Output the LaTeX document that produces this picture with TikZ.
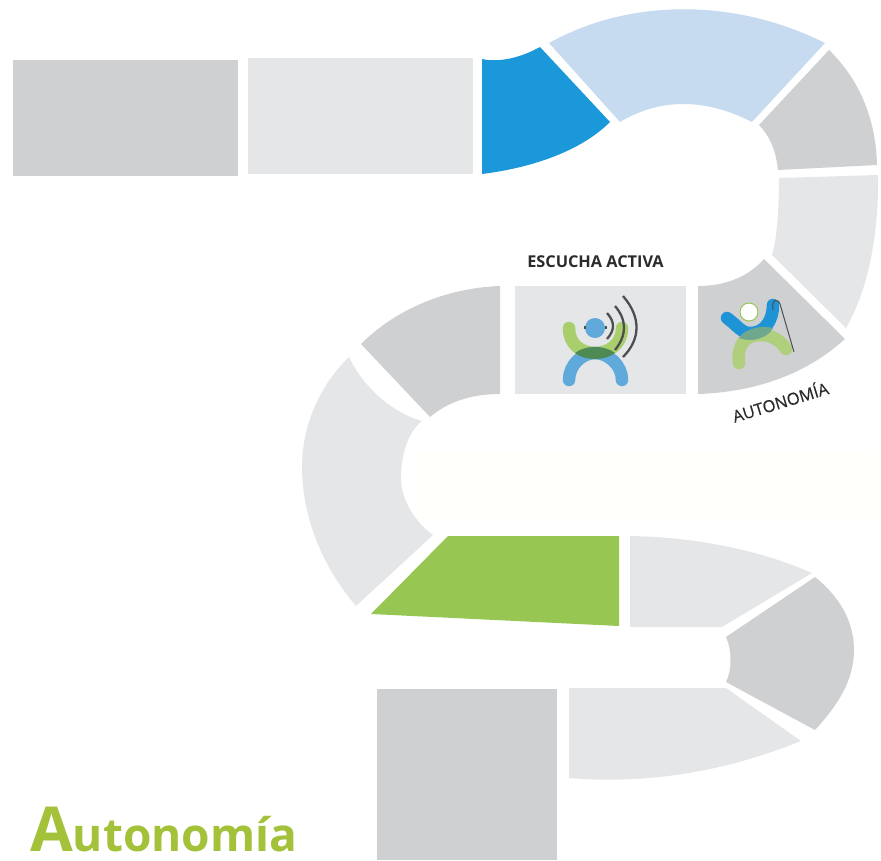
\documentclass[tikz,border=0pt]{standalone}
\usepackage{fontspec}
\setmainfont{Open Sans}
\newfontfamily\autofont[FakeBold=0.5]{Open Sans}
\definecolor{tgray}{HTML}{CFD0D2}
\definecolor{tlight}{HTML}{E5E6E8}
\definecolor{tblue}{HTML}{1B98D9}
\definecolor{tpale}{HTML}{C6DBF0}
\definecolor{tgreen}{HTML}{98C652}
\definecolor{tcream}{HTML}{FFFFFC}
\definecolor{ibluea}{HTML}{5FA9DB}
\definecolor{igreena}{HTML}{A9CE6C}
\definecolor{idark}{HTML}{4F8A55}
\definecolor{ibluec}{HTML}{1E93D6}
\definecolor{igreenc}{HTML}{AFCF7C}
\definecolor{idarkc}{HTML}{6FA88E}
\definecolor{tline}{HTML}{4D4E50}
\definecolor{ttitle}{HTML}{A3C23A}
\definecolor{ttext}{HTML}{2B2B2D}
\tikzset{
 tile/.style={fill=#1,draw=none},
 limb/.style={line width=#1,line cap=round},
 wave/.style={draw=tline,line width=2.3pt,line cap=butt}
}
\begin{document}
\begin{tikzpicture}[x=1pt,y=-1pt]
\useasboundingbox (0,0) rectangle (881,860);
\fill[tile=tcream] (415,450) rectangle (879,520);
% tiles
\fill[tile=tgray] (13,60) rectangle (238,176);
\fill[tile=tlight] (248,58) rectangle (473,174);
\fill[tile=tblue] (482,59) .. controls (500,63) and (522,57) .. (540,47) -- (610,122) .. controls (580,152) and (530,168) .. (482,174) -- cycle;
\fill[tile=tpale] (549,43) .. controls (630,-2) and (735,-2) .. (825,43) -- (752,122) .. controls (705,98) and (660,98) .. (620,122) -- cycle;
\fill[tile=tgray] (829,50) .. controls (860,80) and (876,120) .. (877,165) -- (778,170) .. controls (776,150) and (769,135) .. (759,125) -- cycle;
\fill[tile=tlight] (779,178) -- (878,175) .. controls (879,235) and (868,290) .. (846,328) -- (772,255) .. controls (778,235) and (779,200) .. (779,178) -- cycle;
\fill[tile=tgray] (698,286) .. controls (725,286) and (748,277) .. (764,259) -- (845,339) .. controls (805,375) and (755,392) .. (698,394) -- cycle;
\fill[tile=tlight] (515,286) rectangle (686,394);
\fill[tile=tgray] (500,286) -- (500,394) .. controls (475,394) and (450,400) .. (430,417) -- (361,344) .. controls (395,310) and (445,288) .. (500,286) -- cycle;
\fill[tile=tlight] (349,357) .. controls (362,385) and (390,412) .. (422,421) .. controls (408,432) and (401,455) .. (401,478) .. controls (401,500) and (415,522) .. (433,535) -- (356,606) .. controls (325,570) and (302,520) .. (302,467) .. controls (302,425) and (320,385) .. (349,357) -- cycle;
\fill[tile=tgreen] (448,536) -- (619,536) -- (619,626) -- (371,614) -- cycle;
\fill[tile=tlight] (630,536) .. controls (695,537) and (760,550) .. (812,573) -- (722,627) -- (630,627) -- cycle;
\fill[tile=tgray] (815,577) .. controls (840,597) and (854,622) .. (854,650) .. controls (854,680) and (838,705) .. (815,730) -- (726,682) .. controls (732,670) and (732,650) .. (726,637) -- cycle;
\fill[tile=tlight] (569,688) -- (726,688) -- (801,741) .. controls (730,770) and (650,785) .. (569,778) -- cycle;
\fill[tile=tgray] (377,689) rectangle (557,860);
% escucha icon
\draw[limb=12.5pt,igreena] (569,328) .. controls (569,345) and (582,353) .. (595,353) .. controls (608,353) and (622,345) .. (622,328);
\draw[limb=12.5pt,ibluea] (569,380) .. controls (569,365) and (582,353) .. (595,353) .. controls (608,353) and (622,365) .. (622,380);
\fill[idark] (575,353) .. controls (585,345) and (605,345) .. (615,353) .. controls (605,361) and (585,361) .. (575,353) -- cycle;
\fill[ibluea] (595,328) circle (10pt);
\fill[tline] (584,326) rectangle (586,329);
\fill[tline] (605,326) rectangle (607,329);
\draw[wave] (607,313) .. controls (615,322) and (615,330) .. (607,339);
\draw[wave] (615,306) .. controls (627,320) and (627,335) .. (615,350);
\draw[wave] (623,296) .. controls (642,318) and (640,340) .. (623,357);
% autonomia icon
\draw[limb=12.5pt,ibluec] (727,318) .. controls (738,326) and (742,334) .. (752,333) .. controls (765,332) and (773,320) .. (773,305);
\draw[limb=12.5pt,igreenc] (739,363) .. controls (737,345) and (745,335) .. (760,335) .. controls (772,335) and (780,340) .. (786,349);
\fill[idarkc] (739,338) .. controls (746,328) and (762,325) .. (773,328) .. controls (768,338) and (752,343) .. (739,338) -- cycle;
\draw[draw=tgreen,fill=white,line width=1pt] (749,312) circle (9pt);
\draw[tline,line width=1pt] (773,310) .. controls (771,299) and (778,298) .. (780,304) -- (794,352);
% text
\node[font=\fontsize{16.3}{18}\selectfont\bfseries,text=ttext,inner sep=0pt] (tescucha) at (595.5,262) {ESCUCHA ACTIVA};
\node[font=\autofont\fontsize{16.5}{18}\selectfont,text=ttext,inner sep=0pt,rotate=17] (tauto) at (780,401) {AUTONOMÍA};
\node[text=ttitle,inner sep=0pt,anchor=base west,font=\bfseries] (ttitle) at (30,851) {\fontsize{62}{62}\selectfont A\fontsize{46}{46}\selectfont utonomía};
\end{tikzpicture}
\end{document}
